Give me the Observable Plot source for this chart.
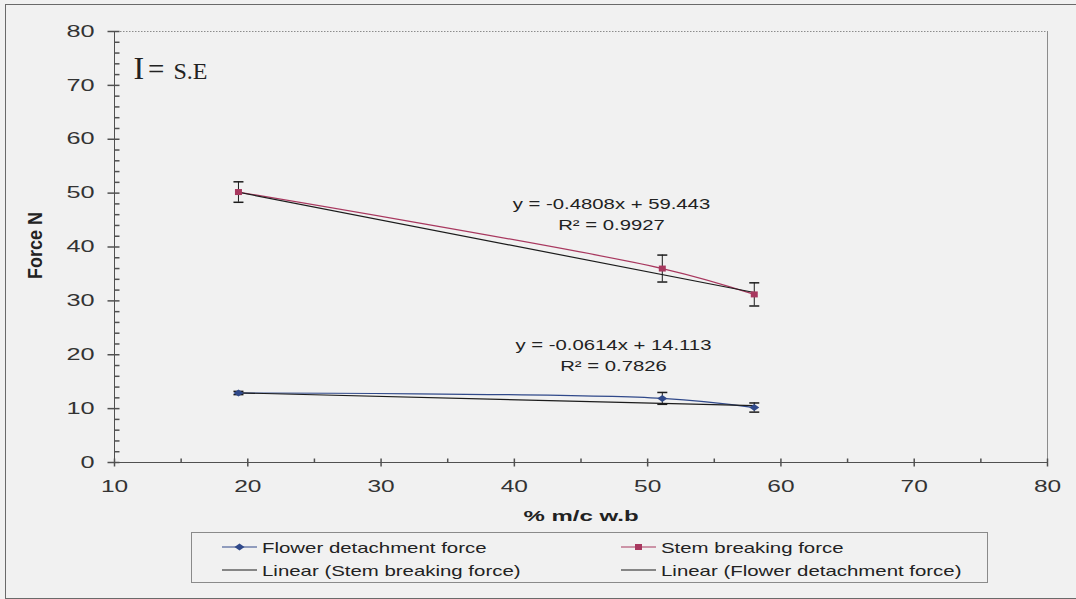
<!DOCTYPE html>
<html>
<head>
<meta charset="utf-8">
<script src="https://cdn.jsdelivr.net/npm/d3@7"></script>
<script src="https://cdn.jsdelivr.net/npm/@observablehq/plot@0.6"></script>
<style>
  html, body { margin: 0; background: #f1f1f1; }
  #chart { position: relative; width: 1076px; height: 599px; overflow: hidden; }
  #border { position: absolute; left: 5px; top: 4px; width: 1100px; height: 593px;
            border: 1px solid #6a6a6a; pointer-events: none; }
  .legend { position: relative; margin: 12px 0 0 191px; width: 797px; height: 51px;
            box-sizing: border-box; border: 1px solid #8a8a8a;
            font-family: "Liberation Sans", Arial, sans-serif; font-size: 15px; color: #222; }
  .item { position: absolute; display: flex; align-items: center; height: 18px; white-space: nowrap; }
  .item svg { display: block; margin-right: 5px; }
  .lbl { display: inline-block; transform: scaleX(1.36); transform-origin: 0 50%; }
</style>
</head>
<body>
<div id="chart"><div id="border"></div></div>
<script>
// Axis titles and series names
const xLabel = "% m/c w.b";
const yLabel = "Force N";
const seriesNames = [
  "Flower detachment force",
  "Stem breaking force",
  "Linear (Stem breaking force)",
  "Linear (Flower detachment force)"
];

// Moisture content (% wet basis) and mean forces (N) with standard errors
const moisture = [19.3, 51.1, 58.0];
const flowerForce = [12.9, 11.9, 10.2];
const flowerSE = [0.3, 1.1, 0.85];
const stemForce = [50.2, 36.0, 31.2];
const stemSE = [1.9, 2.5, 2.15];

// Linear trend lines
const stemSlope = -0.4808, stemIntercept = 59.443, stemR2 = 0.9927;
const flowerSlope = -0.0614, flowerIntercept = 14.113, flowerR2 = 0.7826;

// Axis ticks
const xTicks = [10, 20, 30, 40, 50, 60, 70, 80];
const yTicks = [0, 10, 20, 30, 40, 50, 60, 70, 80];
const xMinor = [15, 25, 35, 45, 55, 65, 75];
const yMinor = d3.range(0, 81, 2).filter(v => v % 10 !== 0);

const red = "#a8385f", blue = "#30498a", ink = "#1c1c1c", axisInk = "#505050";

const rows = (ys, se) => moisture.map((x, i) => ({x, y: ys[i], lo: ys[i] - se[i], hi: ys[i] + se[i]}));
const stem = rows(stemForce, stemSE);
const flower = rows(flowerForce, flowerSE);
const fitRows = (m, b) => d3.extent(moisture).map(x => ({x, y: m * x + b}));
const equation = (m, b, r2) => `y = ${m}x + ${b}\nR² = ${r2}`;

// Small path symbols for ticks, error-bar caps and markers
const sym = draw => ({draw});
const tickUp = sym(c => { c.moveTo(0, 0); c.lineTo(0, -4); });
const tickCross = sym(c => { c.moveTo(0, -4); c.lineTo(0, 4); });
const tickRight = sym(c => { c.moveTo(0, 0); c.lineTo(5, 0); });
const tickYMajor = sym(c => { c.moveTo(-7, 0); c.lineTo(5, 0); });
const cap = sym(c => { c.moveTo(-5, 0); c.lineTo(5, 0); });
const square = sym(c => { c.rect(-3.5, -3, 7, 6); });
const diamond = sym(c => { c.moveTo(-5, 0); c.lineTo(0, -3.5); c.lineTo(5, 0); c.lineTo(0, 3.5); c.closePath(); });

const zero = () => 0;
const ten = () => 10;
const ident = d => d;
const serif = "'Liberation Serif', 'Times New Roman', serif";

const plot = Plot.plot({
  width: 1076,
  height: 520,
  marginLeft: 114,
  marginRight: 29,
  marginTop: 31,
  marginBottom: 58,
  x: {domain: [10, 80]},
  y: {domain: [0, 80]},
  style: {background: "transparent", color: "#333", fontFamily: "'Liberation Sans', Arial, sans-serif", overflow: "visible"},
  marks: [
    // plot-area border and axis lines
    Plot.ruleY([80], {stroke: "#8c8c8c", strokeDasharray: "1.5,1.5"}),
    Plot.ruleX([80], {stroke: "#8c8c8c"}),
    Plot.ruleX([10], {stroke: axisInk}),
    Plot.ruleY([0], {stroke: axisInk}),
    // tick marks
    Plot.dot(xTicks, {x: ident, y: zero, symbol: tickCross, r: 4, stroke: axisInk, fill: "none"}),
    Plot.dot(xMinor, {x: ident, y: zero, symbol: tickUp, r: 4, stroke: axisInk, fill: "none"}),
    Plot.dot(yTicks, {x: ten, y: ident, symbol: tickYMajor, r: 4, stroke: axisInk, fill: "none"}),
    Plot.dot(yMinor, {x: ten, y: ident, symbol: tickRight, r: 4, stroke: axisInk, fill: "none"}),
    // tick labels
    Plot.axisX({ticks: xTicks, tickSize: 0, tickPadding: 18, fontSize: 16, label: null, fill: "#333"}),
    Plot.axisY({ticks: yTicks, tickSize: 0, tickPadding: 20, fontSize: 16, label: null, fill: "#333"}),
    // axis titles
    Plot.text([xLabel], {text: ident, frameAnchor: "bottom", dy: 53.5, lineAnchor: "middle", textAnchor: "middle",
      fontSize: 15, fontWeight: "bold", fill: "#222"}),
    Plot.text([yLabel], {text: ident, frameAnchor: "left", dx: -79, dy: -1.5, rotate: -90, lineAnchor: "middle", textAnchor: "middle",
      fontSize: 18, fontWeight: "bold", fill: "#222"}),
    // standard-error note
    Plot.text(["I"], {text: ident, frameAnchor: "top-left", dx: 19, dy: 47.3, lineAnchor: "bottom", textAnchor: "start",
      fontFamily: serif, fontSize: 32, fill: "#222"}),
    Plot.text(["="], {text: ident, frameAnchor: "top-left", dx: 33.5, dy: 47.3, lineAnchor: "bottom", textAnchor: "start",
      fontFamily: serif, fontSize: 29, fill: "#222"}),
    Plot.text(["S.E"], {text: ident, frameAnchor: "top-left", dx: 59, dy: 47.3, lineAnchor: "bottom", textAnchor: "start",
      fontFamily: serif, fontSize: 24, fill: "#222"}),
    // series lines
    Plot.line(stem, {x: "x", y: "y", stroke: red, strokeWidth: 1.2, curve: "catmull-rom"}),
    Plot.line(flower, {x: "x", y: "y", stroke: blue, strokeWidth: 1.2, curve: "catmull-rom"}),
    // trend lines
    Plot.line(fitRows(stemSlope, stemIntercept), {x: "x", y: "y", stroke: ink, strokeWidth: 1.2}),
    Plot.line(fitRows(flowerSlope, flowerIntercept), {x: "x", y: "y", stroke: ink, strokeWidth: 1.2}),
    // error bars
    ...[stem, flower].flatMap(data => [
      Plot.ruleX(data, {x: "x", y1: "lo", y2: "hi", stroke: ink, strokeWidth: 1}),
      Plot.dot(data, {x: "x", y: "lo", symbol: cap, r: 4, stroke: ink, fill: "none"}),
      Plot.dot(data, {x: "x", y: "hi", symbol: cap, r: 4, stroke: ink, fill: "none"})
    ]),
    // markers
    Plot.dot(stem, {x: "x", y: "y", symbol: square, r: 4, fill: red, stroke: "none"}),
    Plot.dot(flower, {x: "x", y: "y", symbol: diamond, r: 4, fill: blue, stroke: "none"}),
    // trend equations
    Plot.text([equation(stemSlope, stemIntercept, stemR2)], {text: ident, frameAnchor: "top-left", dx: 497, dy: 181,
      lineAnchor: "middle", textAnchor: "middle", fontSize: 14, lineHeight: 1.5, fill: "#222"}),
    Plot.text([equation(flowerSlope, flowerIntercept, flowerR2)], {text: ident, frameAnchor: "top-left", dx: 499, dy: 322.5,
      lineAnchor: "middle", textAnchor: "middle", fontSize: 14, lineHeight: 1.5, fill: "#222"})
  ]
});

// widen the lettering horizontally, scaling each text about its anchor
const stretchFor = (t, group) => {
  const content = t.textContent;
  if (group.startsWith("x-axis tick label")) return 1.53;
  if (group.startsWith("y-axis tick label")) return 1.58;
  if (content === xLabel) return 1.6;
  if (content === yLabel) return 1.08;
  if (content.startsWith("y =")) return 1.45;
  return 0;
};
plot.querySelectorAll("text").forEach(t => {
  const g = t.closest("g[aria-label]");
  const s = stretchFor(t, g ? g.getAttribute("aria-label") || "" : "");
  if (!s) return;
  let tr = t.getAttribute("transform");
  if (tr && /^translate\([^)]*\)/.test(tr)) {
    tr = tr.replace(/^(translate\([^)]*\))/, `$1 scale(${s},1)`);
  } else {
    const x = +(t.getAttribute("x") || 0), y = +(t.getAttribute("y") || 0);
    t.removeAttribute("x"); t.removeAttribute("y");
    tr = `translate(${x},${y}) scale(${s},1)` + (tr ? " " + tr : "");
  }
  t.setAttribute("transform", tr);
});

const chart = document.getElementById("chart");
chart.appendChild(plot);

// legend below the plot
const keySvg = (color, marker) => {
  const markerPath = marker === "diamond" ? "M12.5,5L17.5,1.5L22.5,5L17.5,8.5Z"
    : marker === "square" ? "M14,2h7v6h-7Z" : "";
  return `<svg width="35" height="10"><line x1="0" y1="5" x2="35" y2="5" stroke="${color}" stroke-width="1.2"/>` +
    (markerPath ? `<path d="${markerPath}" fill="${color}"/>` : "") + `</svg>`;
};
const legendItems = [
  {name: seriesNames[0], color: blue, marker: "diamond", left: 30, top: 5},
  {name: seriesNames[1], color: red, marker: "square", left: 429, top: 5},
  {name: seriesNames[2], color: ink, marker: null, left: 30, top: 28},
  {name: seriesNames[3], color: ink, marker: null, left: 429, top: 28}
];
const legend = document.createElement("div");
legend.className = "legend";
legend.innerHTML = legendItems.map(d =>
  `<div class="item" style="left:${d.left}px;top:${d.top}px">${keySvg(d.color, d.marker)}<span class="lbl">${d.name}</span></div>`
).join("");
chart.appendChild(legend);
</script>
</body>
</html>
